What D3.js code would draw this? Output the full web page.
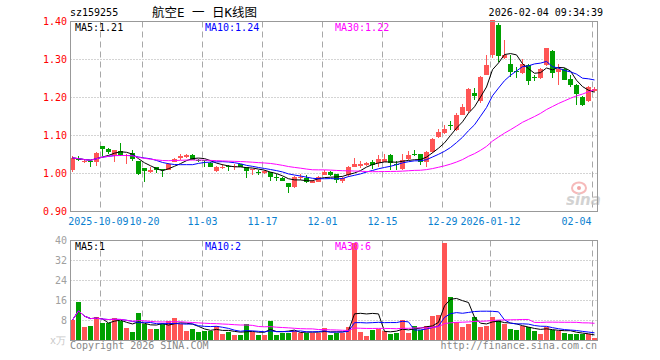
<!DOCTYPE html>
<html>
<head>
<meta charset="utf-8">
<script src="https://cdn.jsdelivr.net/npm/d3@7"></script>
<style>
body { margin: 0; background: #fff; }
text { font-family: "DejaVu Sans Mono", monospace; font-size: 10px; }
</style>
</head>
<body>
<div id="chart"></div>
<script>
// trading days shown on the chart
var dates = [
  "2025-09-24","2025-09-25","2025-09-26","2025-09-29","2025-09-30",
  "2025-10-09","2025-10-10","2025-10-13","2025-10-14","2025-10-15","2025-10-16","2025-10-17",
  "2025-10-20","2025-10-21","2025-10-22","2025-10-23","2025-10-24",
  "2025-10-27","2025-10-28","2025-10-29","2025-10-30","2025-10-31",
  "2025-11-03","2025-11-04","2025-11-05","2025-11-06","2025-11-07",
  "2025-11-10","2025-11-11","2025-11-12","2025-11-13","2025-11-14",
  "2025-11-17","2025-11-18","2025-11-19","2025-11-20","2025-11-21",
  "2025-11-24","2025-11-25","2025-11-26","2025-11-27","2025-11-28",
  "2025-12-01","2025-12-02","2025-12-03","2025-12-04","2025-12-05",
  "2025-12-08","2025-12-09","2025-12-10","2025-12-11","2025-12-12",
  "2025-12-15","2025-12-16","2025-12-17","2025-12-18","2025-12-19",
  "2025-12-22","2025-12-23","2025-12-24","2025-12-25","2025-12-26",
  "2025-12-29","2025-12-30","2025-12-31",
  "2026-01-05","2026-01-06","2026-01-07","2026-01-08","2026-01-09",
  "2026-01-12","2026-01-13","2026-01-14","2026-01-15","2026-01-16",
  "2026-01-19","2026-01-20","2026-01-21","2026-01-22","2026-01-23",
  "2026-01-26","2026-01-27","2026-01-28","2026-01-29","2026-01-30",
  "2026-02-02","2026-02-03","2026-02-04"
];

var open = [
  1.009,1.038,1.030,1.033,1.031, 1.072,1.065,1.044,1.060,1.046,
  1.055,1.032,1.014,1.004,1.017, 1.012,1.010,1.031,1.039,1.043,
  1.049,1.036,1.035,1.028,1.007, 1.013,1.019,1.018,1.024,1.017,
  1.008,1.005,1.000,1.004,0.990, 0.989,0.975,0.965,0.988,0.989,
  0.976,0.980,0.997,1.003,0.998, 0.980,0.995,1.018,1.022,1.022,
  1.031,1.026,1.031,1.048,1.026, 1.012,1.037,1.050,1.050,1.031,
  1.057,1.095,1.108,1.128,1.114, 1.155,1.164,1.211,1.190,1.260,
  1.311,1.392,1.304,1.287,1.270, 1.263,1.285,1.255,1.250,1.285,
  1.322,1.268,1.276,1.248,1.232, 1.202,1.190,1.218
];
var high = [
  1.046,1.046,1.036,1.035,1.056, 1.073,1.068,1.062,1.081,1.051,
  1.062,1.034,1.015,1.018,1.018, 1.013,1.028,1.040,1.050,1.050,
  1.050,1.038,1.036,1.030,1.019, 1.024,1.022,1.024,1.025,1.018,
  1.013,1.009,1.009,1.005,0.998, 0.990,0.976,0.993,1.000,0.996,
  0.983,0.993,1.009,1.006,1.000, 0.990,1.019,1.042,1.032,1.030,
  1.035,1.048,1.051,1.050,1.032, 1.052,1.060,1.062,1.050,1.058,
  1.094,1.116,1.127,1.137,1.158, 1.184,1.225,1.226,1.256,1.313,
  1.405,1.396,1.351,1.311,1.281, 1.302,1.288,1.259,1.278,1.331,
  1.325,1.287,1.277,1.259,1.236, 1.205,1.230,1.228
];
var low = [
  1.005,1.032,1.028,1.016,1.020, 1.047,1.052,1.029,1.047,1.026,
  1.032,0.995,0.978,1.002,1.002, 0.990,1.008,1.030,1.036,1.041,
  1.036,1.030,1.017,1.016,1.004, 1.012,1.007,1.010,1.016,0.989,
  0.995,0.997,0.999,0.981,0.980, 0.979,0.949,0.962,0.983,0.974,
  0.975,0.978,0.995,0.993,0.975, 0.974,0.990,1.016,1.014,1.020,
  1.011,1.018,1.030,1.010,1.010, 1.008,1.035,1.045,1.022,1.018,
  1.055,1.093,1.105,1.114,1.112, 1.153,1.160,1.193,1.186,1.258,
  1.305,1.294,1.300,1.254,1.250, 1.261,1.232,1.243,1.248,1.283,
  1.252,1.232,1.245,1.228,1.181, 1.178,1.187,1.214
];
var close = [
  1.041,1.037,1.032,1.030,1.055, 1.063,1.058,1.061,1.049,1.048,
  1.038,0.999,1.007,1.010,1.010, 1.010,1.026,1.039,1.045,1.049,
  1.037,1.033,1.032,1.018,1.017, 1.016,1.017,1.020,1.017,1.007,
  1.011,1.003,1.006,0.991,0.988, 0.981,0.965,0.991,0.990,0.978,
  0.981,0.992,1.005,0.995,0.982, 0.988,1.017,1.025,1.026,1.028,
  1.022,1.037,1.039,1.026,1.024, 1.035,1.048,1.048,1.028,1.057,
  1.092,1.108,1.118,1.126,1.153, 1.175,1.222,1.202,1.254,1.285,
  1.403,1.310,1.313,1.267,1.268, 1.287,1.244,1.253,1.275,1.329,
  1.263,1.276,1.248,1.232,1.208, 1.180,1.228,1.222
];
var volume = [
  8.2,15.5,5.5,5.9,9.5, 6.9,7.2,9.2,7.9,5.2,
  3.6,11.2,6.5,4.8,4.8, 6.7,8.0,9.2,6.7,4.0,
  4.8,3.6,4.0,3.9,5.9, 2.8,3.6,2.0,2.4,6.7,
  3.5,2.0,2.0,8.0,2.4, 3.2,3.2,4.0,3.2,3.2,
  3.2,3.2,5.2,2.4,3.2, 3.2,5.6,38.9,3.5,1.9,
  4.3,4.6,3.9,2.7,3.2, 8.2,3.2,5.9,4.3,5.9,
  9.9,10.3,38.9,17.5,7.5, 5.5,6.6,9.5,5.5,6.0,
  9.5,8.2,6.6,4.6,4.3, 6.0,5.3,3.9,2.7,5.5,
  4.3,3.9,3.2,2.7,2.5, 2.5,2.5,0.9
];

var tickDates  = ["2025-10-09","2025-10-20","2025-11-03","2025-11-17","2025-12-01","2025-12-15","2025-12-29","2026-01-12","2026-02-04"];
var tickLabels = ["2025-10-09","10-20","11-03","11-17","12-01","12-15","12-29","2026-01-12","02-04"];
var priceTicks = [0.9, 1.0, 1.1, 1.2, 1.3, 1.4];
var volTicks = [8, 16, 24, 32, 40];

var maPeriods = [5, 10, 30];
var maColors = ["#000000", "#0000ff", "#ff00ff"];
var priceMaNow = ["1.21", "1.24", "1.22"];
var volMaNow = ["1", "2", "6"];

var code = "sz159255",
    title = "航空E 一 日K线图",
    stamp = "2026-02-04 09:34:39";

var w = 660, h = 360,
    left = 70.5, right = 597.5,
    up = "#ff5555", down = "#00a000",
    grid = "#a8a8a8";

var svg = d3.select("#chart").append("svg")
    .attr("width", w)
    .attr("height", h);

var x = d3.scalePoint().domain(dates).range([72.5, 594.5]);
var y = d3.scaleLinear().domain([0.9, 1.4]).range([211.5, 21.5]);
var vy = d3.scaleLinear().domain([0, 40]).range([340.5, 240.5]);

var rows = dates.map(function(d, i) {
  return {date: d, o: open[i], h: high[i], l: low[i], c: close[i], v: volume[i]};
});

function movingAvg(arr, n) {
  return arr.map(function(_, i) {
    return d3.mean(arr.slice(Math.max(0, i - n + 1), i + 1));
  });
}

svg.append("clipPath").attr("id", "pclip")
  .append("rect").attr("x", left).attr("y", 21.5).attr("width", right - left).attr("height", 190);
svg.append("clipPath").attr("id", "vclip")
  .append("rect").attr("x", left).attr("y", 240.5).attr("width", right - left).attr("height", 100);

// horizontal dotted grid
svg.selectAll(".pgrid")
    .data(priceTicks.slice(1, -1))
  .enter().append("line")
    .attr("x1", left).attr("x2", right)
    .attr("y1", function(d){ return y(d); })
    .attr("y2", function(d){ return y(d); })
    .attr("stroke", grid)
    .attr("stroke-dasharray", "1,2");

svg.selectAll(".vgrid")
    .data(volTicks.slice(0, -1))
  .enter().append("line")
    .attr("x1", left).attr("x2", right)
    .attr("y1", function(d){ return vy(d); })
    .attr("y2", function(d){ return vy(d); })
    .attr("stroke", grid)
    .attr("stroke-dasharray", "1,2");

// vertical dashed grid in both panels
tickDates.forEach(function(d) {
  var gx = x(d) - 2;
  [[21.5, 211.5], [240.5, 340.5]].forEach(function(r) {
    svg.append("line")
      .attr("x1", gx).attr("x2", gx)
      .attr("y1", r[0]).attr("y2", r[1])
      .attr("stroke", grid)
      .attr("stroke-dasharray", "6,4");
  });
});

// sina watermark
var mark = svg.append("g").attr("opacity", 0.75);
mark.append("ellipse").attr("cx", 579).attr("cy", 188).attr("rx", 7).attr("ry", 5.5)
  .attr("fill", "none").attr("stroke", "#f3a3a3").attr("stroke-width", 2);
mark.append("circle").attr("cx", 579).attr("cy", 188).attr("r", 2).attr("fill", "#e88");
mark.append("text").attr("x", 566).attr("y", 205)
  .style("font-family", "'DejaVu Sans', sans-serif")
  .style("font-size", "15px").style("font-weight", "bold").style("font-style", "italic")
  .attr("fill", "#c4c4c4").text("sina");

// candles
var candles = svg.append("g").selectAll("g")
    .data(rows)
  .enter().append("g")
    .attr("fill", function(d){ return d.c >= d.o ? up : down; })
    .attr("stroke", function(d){ return d.c >= d.o ? up : down; });

candles.append("line")
    .attr("x1", function(d){ return x(d.date); })
    .attr("x2", function(d){ return x(d.date); })
    .attr("y1", function(d){ return Math.round(y(d.h)); })
    .attr("y2", function(d){ return Math.round(y(d.l)); });

candles.append("rect")
    .attr("stroke", "none")
    .attr("x", function(d){ return x(d.date) - 2.5; })
    .attr("width", 5)
    .attr("y", function(d){ return Math.round(y(Math.max(d.o, d.c))); })
    .attr("height", function(d){ return Math.max(1, Math.round(Math.abs(y(d.o) - y(d.c)))); });

// volume bars
svg.append("g").selectAll("rect")
    .data(rows)
  .enter().append("rect")
    .attr("x", function(d){ return x(d.date) - 2.5; })
    .attr("width", 5)
    .attr("y", function(d){ return Math.round(vy(d.v)); })
    .attr("height", function(d){ return 340.5 - Math.round(vy(d.v)); })
    .attr("fill", function(d){ return d.c >= d.o ? up : down; });

// moving averages
maPeriods.forEach(function(n, j) {
  var pm = movingAvg(close, n), vm = movingAvg(volume, n);
  svg.append("path")
    .datum(pm)
    .attr("clip-path", "url(#pclip)")
    .attr("fill", "none").attr("stroke", maColors[j])
    .attr("d", d3.line().x(function(d, i){ return x(dates[i]); }).y(function(d){ return y(d); }));
  svg.append("path")
    .datum(vm)
    .attr("clip-path", "url(#vclip)")
    .attr("fill", "none").attr("stroke", maColors[j])
    .attr("d", d3.line().x(function(d, i){ return x(dates[i]); }).y(function(d){ return vy(d); }));
});

// frames
svg.append("rect").attr("x", left).attr("y", 21.5).attr("width", right - left).attr("height", 190)
  .attr("fill", "none").attr("stroke", "#999");
svg.append("rect").attr("x", left).attr("y", 240.5).attr("width", right - left).attr("height", 100)
  .attr("fill", "none").attr("stroke", "#999");

// axis labels
svg.selectAll(".plab")
    .data(priceTicks)
  .enter().append("text")
    .attr("x", 67).attr("y", function(d){ return y(d); })
    .attr("dy", "0.35em")
    .attr("text-anchor", "end")
    .attr("fill", "#ff0000")
    .text(d3.format(".2f"));

svg.selectAll(".vlab")
    .data(volTicks)
  .enter().append("text")
    .attr("x", 67).attr("y", function(d){ return vy(d); })
    .attr("dy", "0.35em")
    .attr("text-anchor", "end")
    .attr("fill", "#a0a0a0")
    .text(function(d){ return d; });

svg.append("text").attr("x", 66).attr("y", 344)
  .attr("text-anchor", "end").attr("fill", "#c8c8c8").text("x万");

// date labels: centred on their gridline, kept inside the frame and apart
var prevEnd = -Infinity, placed = [];
tickDates.forEach(function(d, i) {
  var t = svg.append("text")
    .attr("y", 225)
    .attr("fill", "#0a7fd0")
    .attr("text-anchor", "start")
    .text(tickLabels[i]);
  var tw = t.node().getComputedTextLength(),
      sx = x(d) - 2 - tw / 2;
  if (sx + tw > right - 6) sx = right - 6 - tw;
  if (sx < prevEnd + 1 && placed.length) {
    var over = prevEnd + 1 - sx, last = placed[placed.length - 1];
    last.t.attr("x", last.sx - over / 2);
    sx += over / 2;
  }
  t.attr("x", sx);
  placed.push({t: t, sx: sx});
  prevEnd = sx + tw;
});

// legends
var legX = [75, 205, 335];
maPeriods.forEach(function(n, j) {
  svg.append("text").attr("x", legX[j]).attr("y", 31)
    .attr("fill", maColors[j]).text("MA" + n + ":" + priceMaNow[j]);
  svg.append("text").attr("x", legX[j]).attr("y", 250)
    .attr("fill", maColors[j]).text("MA" + n + ":" + volMaNow[j]);
});

// header
svg.append("text").attr("x", 70).attr("y", 16).attr("fill", "#000").text(code);
svg.append("text").attr("x", 152).attr("y", 17).attr("fill", "#000")
  .style("font-family", "'DejaVu Sans Mono', 'Noto Sans CJK SC', monospace").style("font-size", "12.5px")
  .text(title);
svg.append("text").attr("x", 603).attr("y", 16).attr("text-anchor", "end").attr("fill", "#000").text(stamp);

// footer
svg.append("text").attr("x", 70).attr("y", 349).attr("fill", "#888").text("Copyright 2026 SINA.COM");
svg.append("text").attr("x", 597).attr("y", 349).attr("text-anchor", "end").attr("fill", "#888")
  .text("http://finance.sina.com.cn");
</script>
</body>
</html>
